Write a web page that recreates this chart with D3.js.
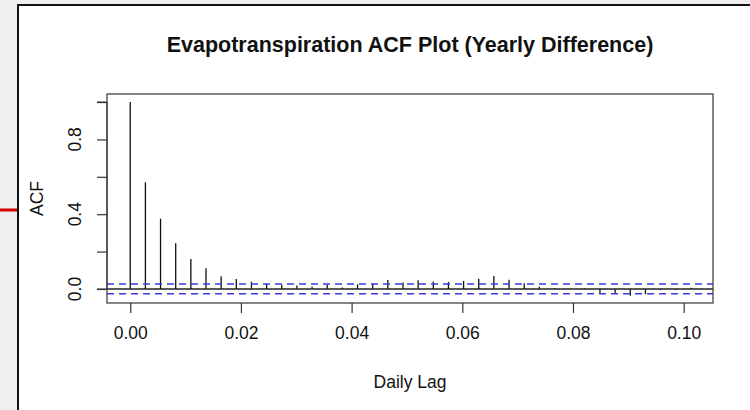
<!DOCTYPE html>
<html>
<head>
<meta charset="utf-8">
<script src="https://cdn.jsdelivr.net/npm/d3@7"></script>
<style>
  html, body { margin: 0; padding: 0; background: #efefef; }
  svg { display: block; font-family: "Liberation Sans", Arial, Helvetica, sans-serif; }
</style>
</head>
<body>
<svg id="chart" width="750" height="410"></svg>
<script>
// ACF values, lag 0..37 (daily lags on a yearly frequency)
const lagDays = d3.range(0, 38);
const acfValues = [1.0, 0.571, 0.376, 0.244, 0.160, 0.111, 0.068, 0.053, 0.039, 0.027,
  0.022, 0.019, 0.012, 0.022, 0.008, 0.025, 0.031, 0.048, 0.035, 0.047,
  0.040, 0.038, 0.043, 0.055, 0.070, 0.050, 0.030, 0.012, 0.004, 0.001,
  0.002, -0.027, -0.024, -0.036, -0.028, -0.006, -0.005, 0.007];
const ciLevel = 0.026;
const xTicks = [0, 0.02, 0.04, 0.06, 0.08, 0.10];
const yTicks = [0, 0.2, 0.4, 0.6, 0.8, 1.0];
const yLabels = [0, 0.4, 0.8];

const svg = d3.select('#chart');

// panel and marker on the left
svg.append('rect').attr('x', 18).attr('y', 5).attr('width', 740).attr('height', 420)
  .attr('fill', '#fff').attr('stroke', '#111').attr('stroke-width', 2);
svg.append('line').attr('x1', 0).attr('x2', 17).attr('y1', 210).attr('y2', 210)
  .attr('stroke', '#d40000').attr('stroke-width', 3);

const box = { left: 107, right: 713, top: 94, bottom: 303 };
const x = d3.scaleLinear().domain([-0.0042, 0.1053]).range([box.left, box.right]);
const y = d3.scaleLinear().domain([-0.075, 1.043]).range([box.bottom, box.top]);

// ACF spikes
svg.append('g').selectAll('line')
  .data(lagDays)
  .join('line')
  .attr('x1', d => x(d / 365.25)).attr('x2', d => x(d / 365.25))
  .attr('y1', y(0)).attr('y2', (d, i) => y(acfValues[i]))
  .attr('stroke', '#111').attr('stroke-width', 1.3);

// zero line
svg.append('line').attr('x1', box.left).attr('x2', box.right)
  .attr('y1', y(0)).attr('y2', y(0)).attr('stroke', '#222').attr('stroke-width', 1.3);

// confidence bounds
[ciLevel, -ciLevel].forEach(c => {
  svg.append('line').attr('x1', box.left).attr('x2', box.right)
    .attr('y1', y(c)).attr('y2', y(c))
    .attr('stroke', '#3b3bdc').attr('stroke-width', 1.5).attr('stroke-dasharray', '7,5');
});

// plot box
svg.append('rect').attr('x', box.left).attr('y', box.top)
  .attr('width', box.right - box.left).attr('height', box.bottom - box.top)
  .attr('fill', 'none').attr('stroke', '#444').attr('stroke-width', 1.3);

// x axis
const xAxis = d3.axisBottom(x).tickValues(xTicks).tickFormat(d3.format('.2f'))
  .tickSize(10).tickPadding(14);
const gx = svg.append('g').attr('transform', `translate(0,${box.bottom})`).call(xAxis);
gx.select('.domain').remove();
gx.selectAll('line').attr('stroke', '#333').attr('stroke-width', 1.2);
gx.selectAll('text').attr('font-size', 17.5).attr('fill', '#111').attr('font-family', null);

// y axis
const yAxis = d3.axisLeft(y).tickValues(yTicks).tickSize(10).tickFormat('');
const gy = svg.append('g').attr('transform', `translate(${box.left},0)`).call(yAxis);
gy.select('.domain').attr('d', `M-10,${y(0)}H0V${y(1)}H-10`).attr('stroke', '#333');
gy.selectAll('line').attr('stroke', '#333').attr('stroke-width', 1.2);

svg.append('g').selectAll('text')
  .data(yLabels)
  .join('text')
  .attr('transform', d => `translate(81,${y(d)}) rotate(-90)`)
  .attr('text-anchor', 'middle')
  .attr('font-size', 17.5).attr('fill', '#111')
  .text(d3.format('.1f'));

// titles
svg.append('text').attr('x', (box.left + box.right) / 2).attr('y', 52)
  .attr('text-anchor', 'middle').attr('font-size', 21.5).attr('font-weight', 'bold')
  .attr('fill', '#111').text('Evapotranspiration ACF Plot (Yearly Difference)');
svg.append('text').attr('x', (box.left + box.right) / 2).attr('y', 388)
  .attr('text-anchor', 'middle').attr('font-size', 17.5).attr('fill', '#111').text('Daily Lag');
svg.append('text').attr('transform', `translate(43,${(box.top + box.bottom) / 2}) rotate(-90)`)
  .attr('text-anchor', 'middle').attr('font-size', 17.5).attr('fill', '#111').text('ACF');
</script>
</body>
</html>
